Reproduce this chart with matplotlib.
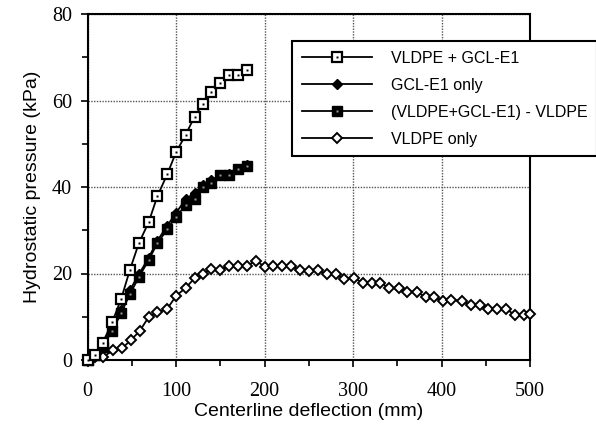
import matplotlib

matplotlib.use('Agg')
import matplotlib.pyplot as plt
from matplotlib.ticker import MultipleLocator
from matplotlib.legend_handler import HandlerTuple

# Data
x_combo = [0, 8, 17, 28, 38, 48, 58, 69, 79, 90, 100, 111, 121, 130, 140, 150, 160, 170, 180]
y_combo = [0, 1.2, 3.9, 8.8, 14.1, 20.9, 27.0, 31.8, 37.9, 42.9, 48.0, 52.1, 56.3, 59.1, 61.9, 64.0, 65.9, 65.9, 67.0]

x_gcl = [0, 8, 17, 28, 38, 48, 58, 69, 79, 90, 100, 111, 121, 130, 140, 150, 160, 170, 180]
y_gcl = [0, 1.5, 3.6, 7.4, 11.6, 16.2, 19.8, 23.6, 27.6, 31.0, 34.0, 37.2, 38.6, 40.4, 41.6, 42.8, 43.0, 44.2, 45.0]

x_diff = [0, 8, 17, 28, 38, 48, 58, 69, 79, 90, 100, 111, 121, 130, 140, 150, 160, 170, 180]
y_diff = [0, 1.2, 3.1, 6.8, 10.8, 15.3, 19.1, 23.1, 27.0, 30.2, 33.1, 35.8, 37.2, 40.1, 40.9, 42.8, 42.8, 44.1, 44.9]

x_vldpe = [0, 8, 18, 29, 39, 49, 59, 69, 79, 90, 100, 111, 121, 130, 140, 150, 160, 170, 180,
           190, 200, 210, 220, 230, 240, 250, 260, 271, 281, 290, 301, 311, 321, 331, 341,
           352, 361, 372, 382, 392, 402, 411, 423, 433, 443, 453, 463, 473, 483, 493, 500]
y_vldpe = [0, 0.8, 0.8, 2.2, 2.7, 4.6, 6.7, 9.9, 11.0, 11.8, 14.8, 16.7, 18.9, 20.0, 21.0, 20.9,
           21.7, 21.7, 21.7, 23.0, 21.6, 21.8, 21.8, 21.8, 20.7, 20.6, 20.8, 19.8, 20.0, 18.7,
           18.9, 17.9, 17.9, 17.9, 16.6, 16.6, 15.8, 15.8, 14.5, 14.5, 13.7, 13.9, 13.7, 12.7,
           12.7, 11.8, 11.8, 11.8, 10.4, 10.4, 10.6]

labels = ['VLDPE + GCL-E1', 'GCL-E1 only', '(VLDPE+GCL-E1) - VLDPE', 'VLDPE only']

sans = 'Liberation Sans'
serif = 'Liberation Serif'

fig = plt.figure(figsize=(5.96, 4.29), dpi=100)
ax = fig.add_axes([87.5 / 596, 1 - 360 / 429, (530 - 87.5) / 596, (360 - 14) / 429])

lw = 1.3
ms = 6.8

# VLDPE only (open diamond)
l4, = ax.plot(x_vldpe, y_vldpe, color='black', lw=lw, marker='D', ms=5,
              mfc='white', mec='black', mew=1.4, clip_on=False, zorder=3)

# (VLDPE+GCL-E1) - VLDPE (filled square with light centre)
l3, = ax.plot(x_diff, y_diff, color='black', lw=lw, marker='s', ms=ms,
              mfc='black', mec='black', clip_on=False, zorder=3)
d3, = ax.plot(x_diff, y_diff, ls='none', marker='s', ms=1.6, mfc='#999999', mec='none',
              clip_on=False, zorder=4)

# GCL-E1 only (filled diamond)
l2, = ax.plot(x_gcl, y_gcl, color='black', lw=lw, marker='D', ms=5.5,
              mfc='black', mec='black', clip_on=False, zorder=3)

# VLDPE + GCL-E1 (open square with black centre)
l1, = ax.plot(x_combo, y_combo, color='black', lw=lw, marker='s', ms=ms,
              mfc='white', mec='black', mew=1.6, clip_on=False, zorder=5)
d1, = ax.plot(x_combo, y_combo, ls='none', marker='s', ms=2.0, mfc='black', mec='none',
              clip_on=False, zorder=6)

ax.set_xlim(0, 500)
ax.set_ylim(0, 80)
ax.xaxis.set_major_locator(MultipleLocator(100))
ax.xaxis.set_minor_locator(MultipleLocator(50))
ax.yaxis.set_major_locator(MultipleLocator(20))
ax.yaxis.set_minor_locator(MultipleLocator(10))
ax.tick_params(which='major', direction='out', length=5, width=1.2)
ax.tick_params(axis='x', which='major', pad=11)
ax.tick_params(axis='y', which='major', pad=6)
ax.tick_params(which='minor', direction='out', length=4, width=1.2)
for lab in ax.get_xticklabels() + ax.get_yticklabels():
    lab.set_fontfamily(serif)
    lab.set_fontsize(14.5)

ax.grid(True, which='major', color='#555555', ls=(0, (1, 1)), lw=1.0)
ax.set_axisbelow(True)
for spine in ax.spines.values():
    spine.set_linewidth(1.5)

ax.set_xlabel('Centerline deflection (mm)', fontsize=14, family=sans, labelpad=1)
ax.set_ylabel('Hydrostatic pressure (kPa)', fontsize=14, family=sans, labelpad=8)

leg = ax.legend([(l1, d1), l2, (l3, d3), l4], labels,
                handler_map={tuple: HandlerTuple(ndivide=1)},
                loc='upper left', bbox_to_anchor=(292 / 596, 1 - 41 / 429),
                bbox_transform=fig.transFigure, numpoints=1,
                prop={'family': sans, 'size': 11.5}, frameon=True, fancybox=False,
                framealpha=1.0, edgecolor='black', handlelength=4.4,
                handletextpad=1.2, labelspacing=0.75, borderpad=0.6, borderaxespad=0)
leg.get_frame().set_linewidth(1.5)
leg.set_clip_on(False)

fig.savefig('out.png', dpi=100)
